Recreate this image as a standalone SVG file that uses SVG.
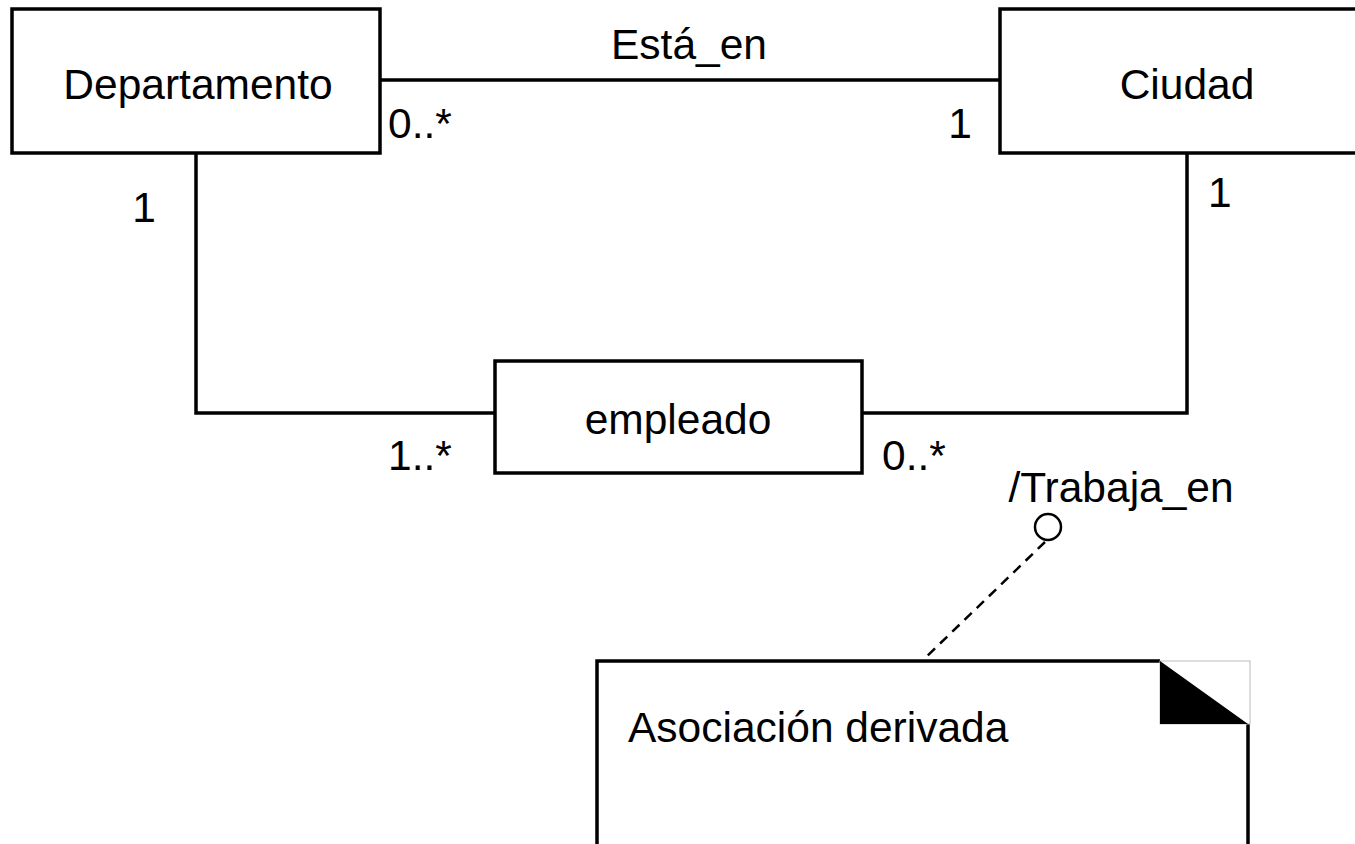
<svg xmlns="http://www.w3.org/2000/svg" width="1355" height="844" viewBox="0 0 1355 844">
<style>
.box{fill:#fff;stroke:#000;stroke-width:3.5}
.ln{fill:none;stroke:#000;stroke-width:3.5}
text{font-family:"Liberation Sans","DejaVu Sans",Arial,sans-serif;font-size:42.5px;fill:#000}
.c{text-anchor:middle}
</style>
<rect width="1355" height="844" fill="#fff"/>
<g id="connectors">
<line class="ln" x1="380" y1="80" x2="1000" y2="80"/>
<polyline class="ln" points="196,153 196,413 495,413"/>
<polyline class="ln" points="862,413 1187,413 1187,153"/>
<line x1="1045" y1="542" x2="923" y2="660" stroke="#000" stroke-width="2.5" stroke-dasharray="10,7"/>
<circle cx="1048" cy="527" r="13" fill="#fff" stroke="#000" stroke-width="2.5"/>
<text x="689" y="59" class="c">Está_en</text>
<text x="388" y="138">0..*</text>
<text x="972" y="138" text-anchor="end">1</text>
<text x="156" y="222" text-anchor="end">1</text>
<text x="1208" y="207">1</text>
<text x="388" y="470">1..*</text>
<text x="882" y="470">0..*</text>
<text x="1121" y="502" class="c">/Trabaja_en</text>
</g>
<g id="departamento">
<rect class="box" x="12" y="9" width="368" height="144"/>
<text x="198" y="99" class="c">Departamento</text>
</g>
<g id="ciudad">
<rect class="box" x="1000" y="9" width="380" height="144"/>
<text x="1187" y="99" class="c">Ciudad</text>
</g>
<g id="empleado">
<rect class="box" x="495" y="361" width="367" height="112"/>
<text x="678" y="434" class="c">empleado</text>
</g>
<g id="nota">
<path class="ln" d="M597,860 L597,661 L1160,661"/>
<path class="ln" d="M1248,724 L1248,860"/>
<rect x="1160" y="661" width="90" height="63" fill="#fff" stroke="#bbb" stroke-width="1"/>
<polygon points="1160,661 1160,724 1248,724" fill="#000"/>
<text x="628" y="742">Asociación derivada</text>
</g>
</svg>
